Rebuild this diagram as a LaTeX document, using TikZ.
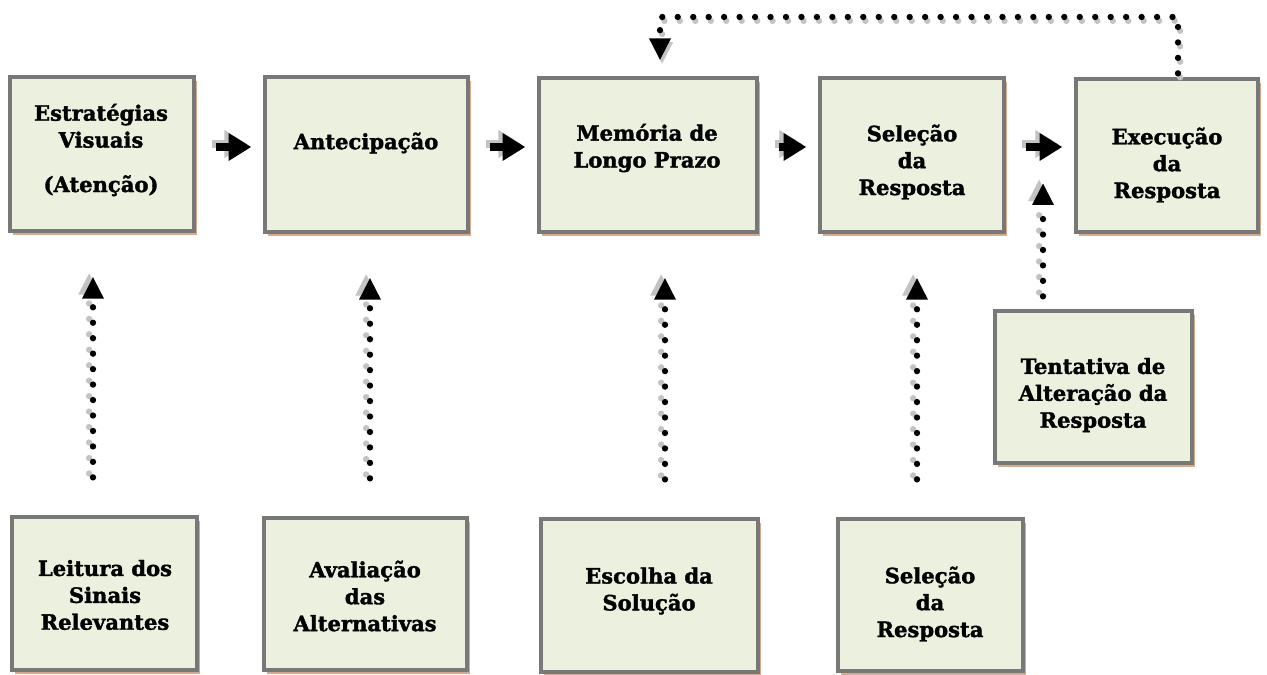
\documentclass[tikz,border=0pt]{standalone}
\usepackage{fontspec}
\setmainfont{DejaVu Serif}[BoldFeatures={FakeBold=1.6}]
\usetikzlibrary{arrows.meta,shadows,calc}
\definecolor{boxfill}{RGB}{235,241,222}
\definecolor{boxline}{RGB}{120,120,120}
\definecolor{boxshadow}{RGB}{214,170,138}
\definecolor{arrshadow}{RGB}{195,195,195}
\begin{document}
\begin{tikzpicture}[x=0.02cm,y=-0.02cm,
  box/.style={draw=boxline, line width=1.9pt, fill=boxfill, inner sep=0pt,
    drop shadow={shadow xshift=1.8pt, shadow yshift=-2.2pt, fill=boxshadow, opacity=1}},
  txt/.style={align=center, font=\fontsize{12}{15.3}\selectfont\bfseries, inner sep=0pt},
  blockarr/.style={line width=5pt, -{Triangle[length=13pt,width=15pt]}, shorten <=0.4cm, shorten >=0.24cm},
  blockshadow/.style={blockarr, draw=arrshadow, transform canvas={shift={(-2.3pt,1.7pt)}}},
  dotarr/.style={line width=3.6pt, line cap=round, dash pattern=on 0pt off 8.8pt,
    -{Triangle[length=12.5pt,width=11.5pt]}},
  dotshadow/.style={dotarr, draw=arrshadow, transform canvas={shift={(-2.2pt,2.2pt)}}},
  fbshadow/.style={dotarr, draw=arrshadow, transform canvas={shift={(1.2pt,-2.2pt)}}}
]
\useasboundingbox (0,0) rectangle (1267,675);
\fill[white] (0,0) rectangle (1267,675);

% top row
\node[box, minimum width=3.68cm, minimum height=3.08cm] (b1) at (102,154) {};
\node[box, minimum width=4.06cm, minimum height=3.10cm] (b2) at (366.5,154.5) {};
\node[box, minimum width=4.36cm, minimum height=3.08cm] (b3) at (648,155) {};
\node[box, minimum width=3.68cm, minimum height=3.08cm] (b4) at (912,155) {};
\node[box, minimum width=3.64cm, minimum height=3.06cm] (b5) at (1167,155.5) {};
% bottom row
\node[box, minimum width=3.70cm, minimum height=3.06cm] (l1) at (104.5,593.5) {};
\node[box, minimum width=4.06cm, minimum height=3.04cm] (l2) at (365.5,594) {};
\node[box, minimum width=4.34cm, minimum height=3.06cm] (l3) at (649.5,595.5) {};
\node[box, minimum width=3.70cm, minimum height=3.04cm] (l4) at (930.5,595) {};
\node[box, minimum width=3.94cm, minimum height=3.04cm] (t1) at (1093.5,387) {};

% texts
\node[txt] (tb1) at (101,150) {Estratégias\\Visuais\\[10pt](Atenção)};
\node[txt] (tb2) at (366,143) {Antecipação};
\node[txt] (tb3) at (647,148) {Memória de\\Longo Prazo};
\node[txt] (tb4) at (912,162) {Seleção\\da\\Resposta};
\node[txt] (tb5) at (1167,165) {Execução\\da\\Resposta};
\node[txt] (tl1) at (105,595) {Leitura dos\\Sinais\\Relevantes};
\node[txt] (tl2) at (365,596) {Avaliação\\das\\Alternativas};
\node[txt] (tl3) at (649,591) {Escolha da\\Solução};
\node[txt] (tl4) at (930,604) {Seleção\\da\\Resposta};
\node[txt] (tt1) at (1093,395) {Tentativa de\\Alteração da\\Resposta};

% horizontal block arrows
\coordinate (h) at (0,147);
\foreach \a/\b in {b1/b2,b2/b3,b3/b4,b4/b5}{
  \draw[blockshadow] (\a.east |- h) -- (\b.west |- h);
  \draw[blockarr] (\a.east |- h) -- (\b.west |- h);
}

% vertical dotted arrows
\foreach \lo/\up/\x in {l1/b1/93,l2/b2/370,l3/b3/665,l4/b4/917}{
  \draw[dotshadow, shorten <=0.76cm, shorten >=0.88cm] (\lo.north -| \x,0) -- (\up.south -| \x,0);
  \draw[dotarr, shorten <=0.76cm, shorten >=0.88cm] (\lo.north -| \x,0) -- (\up.south -| \x,0);
}
% tentativa arrow
\coordinate (tt) at (1043,183);
\draw[dotshadow, shorten <=0.26cm] (t1.north -| tt) -- (tt);
\draw[dotarr, shorten <=0.26cm] (t1.north -| tt) -- (tt);

% feedback arrow
\coordinate (fb) at (0,17);
\draw[fbshadow, shorten <=0.08cm, shorten >=0.32cm] (b5.north -| 1178,0) -- (fb -| 1178,0) -- (fb -| 660,0) -- (b3.north -| 660,0);
\draw[dotarr, shorten <=0.08cm, shorten >=0.32cm] (b5.north -| 1178,0) -- (fb -| 1178,0) -- (fb -| 660,0) -- (b3.north -| 660,0);
\end{tikzpicture}
\end{document}
